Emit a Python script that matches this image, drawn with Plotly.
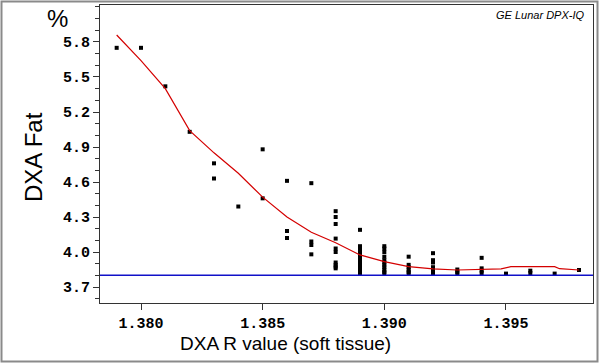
import plotly.graph_objects as go

# ---- data ----
r_values = [1.379, 1.380, 1.381, 1.382, 1.383, 1.384, 1.385, 1.386, 1.387, 1.388,
            1.389, 1.390, 1.391, 1.392, 1.393, 1.394, 1.395, 1.396, 1.397, 1.398]

fat_values = [
    [5.75],
    [5.75],
    [5.42],
    [5.03],
    [4.76, 4.63],
    [4.39],
    [4.88, 4.46],
    [4.61, 4.18, 4.12],
    [4.59, 4.09, 4.06, 3.98],
    [4.35, 4.30, 4.24, 4.115, 4.03, 4.00, 3.91, 3.89, 3.875, 3.86],
    [4.19, 4.05, 4.03, 4.01, 3.99, 3.97, 3.95, 3.93, 3.91, 3.89, 3.87, 3.85, 3.83, 3.82],
    [4.05, 4.03, 4.00, 3.96, 3.93, 3.91, 3.89, 3.87, 3.85, 3.83, 3.82],
    [3.96, 3.89, 3.87, 3.85, 3.83, 3.82],
    [3.99, 3.93, 3.91, 3.87, 3.85, 3.83, 3.82],
    [3.85, 3.83, 3.82],
    [3.95, 3.86, 3.84, 3.82],
    [3.815],
    [3.84, 3.82],
    [3.815],
    [3.846],
]

smooth_x = [1.379, 1.3795, 1.380, 1.381, 1.382, 1.383, 1.384, 1.385, 1.386, 1.387, 1.388,
            1.389, 1.390, 1.391, 1.392, 1.393, 1.394, 1.3948, 1.3952, 1.396, 1.397,
            1.3972, 1.398]
smooth_y = [5.86, 5.75, 5.64, 5.40, 5.04, 4.85, 4.675, 4.47, 4.30, 4.17, 4.08,
            3.975, 3.917, 3.875, 3.855, 3.846, 3.852, 3.855, 3.875, 3.875, 3.875,
            3.857, 3.846]

ref_line = 3.80

x_ticks = [1.380, 1.385, 1.390, 1.395]
x_tick_labels = ["1.380", "1.385", "1.390", "1.395"]
y_ticks = [3.7, 4.0, 4.3, 4.6, 4.9, 5.2, 5.5, 5.8]
y_tick_labels = ["3.7", "4.0", "4.3", "4.6", "4.9", "5.2", "5.5", "5.8"]

# flatten points
px, py = [], []
for xv, ys in zip(r_values, fat_values):
    for yv in ys:
        px.append(xv)
        py.append(yv)

fig = go.Figure()
fig.add_trace(go.Scatter(x=px, y=py, mode="markers",
                         marker=dict(symbol="square", size=4, color="black",
                                     line=dict(width=0)),
                         hoverinfo="skip", showlegend=False))
fig.add_trace(go.Scatter(x=smooth_x, y=smooth_y, mode="lines",
                         line=dict(color="#d40000", width=1.2),
                         hoverinfo="skip", showlegend=False))
fig.add_hline(y=ref_line, line=dict(color="#1010c8", width=1.5), layer="above")

tick_font = dict(family="Liberation Mono", size=15, color="black", weight="bold")

fig.update_layout(
    width=600, height=363,
    margin=dict(l=100, r=7, t=5, b=60),
    paper_bgcolor="white", plot_bgcolor="white",
    font=dict(family="Liberation Sans", color="black"),
    xaxis=dict(range=[1.378315, 1.398576], tickvals=x_ticks, ticktext=x_tick_labels,
               ticks="outside", ticklen=6, tickwidth=1, tickcolor="#333",
               tickfont=tick_font, showgrid=False, zeroline=False,
               showline=True, linecolor="#333", linewidth=1, mirror=True),
    yaxis=dict(range=[3.563, 6.117], tickvals=y_ticks, ticktext=y_tick_labels,
               ticks="outside", ticklen=6, tickwidth=1, tickcolor="#333",
               tickfont=tick_font, showgrid=False, zeroline=False,
               showline=True, linecolor="#333", linewidth=1, mirror=True,
               minor=dict(dtick=0.1, tick0=3.6, ticks="outside", ticklen=4,
                          tickcolor="#333", showgrid=False)),
)

W, H = 600, 363
L, R, T, B = 100, 593, 5, 303


def pxx(x):
    return (x - L) / (R - L)


def pyy(y):
    return (B - y) / (B - T)


# outer frame
fig.add_shape(type="rect", xref="paper", yref="paper",
              x0=pxx(1.5), x1=pxx(597.5), y0=pyy(361.5), y1=pyy(1.5),
              line=dict(color="#8a8a8a", width=2), layer="above")

fig.add_annotation(text="DXA R value (soft tissue)", xref="paper", yref="paper",
                   x=pxx(285), y=pyy(332), showarrow=False, borderpad=0,
                   font=dict(family="Liberation Sans", size=19, color="black"),
                   xanchor="center", yanchor="top")
fig.add_annotation(text="DXA Fat", xref="paper", yref="paper",
                   x=pxx(34), y=pyy(157), showarrow=False, textangle=-90,
                   font=dict(family="Liberation Sans", size=24, color="black"),
                   xanchor="center", yanchor="middle")
fig.add_annotation(text="%", xref="paper", yref="paper",
                   x=pxx(57.5), y=pyy(18), showarrow=False,
                   font=dict(family="Liberation Sans", size=24, color="black"),
                   xanchor="center", yanchor="middle")
fig.add_annotation(text="<i>GE Lunar DPX-IQ</i>", xref="paper", yref="paper",
                   x=pxx(586), y=pyy(15.5), showarrow=False,
                   font=dict(family="Liberation Sans", size=11, color="black"),
                   xanchor="right", yanchor="middle")

fig.write_html("out.html", config={"displayModeBar": False},
               post_script="document.body.style.margin='0';document.body.style.padding='0';")
